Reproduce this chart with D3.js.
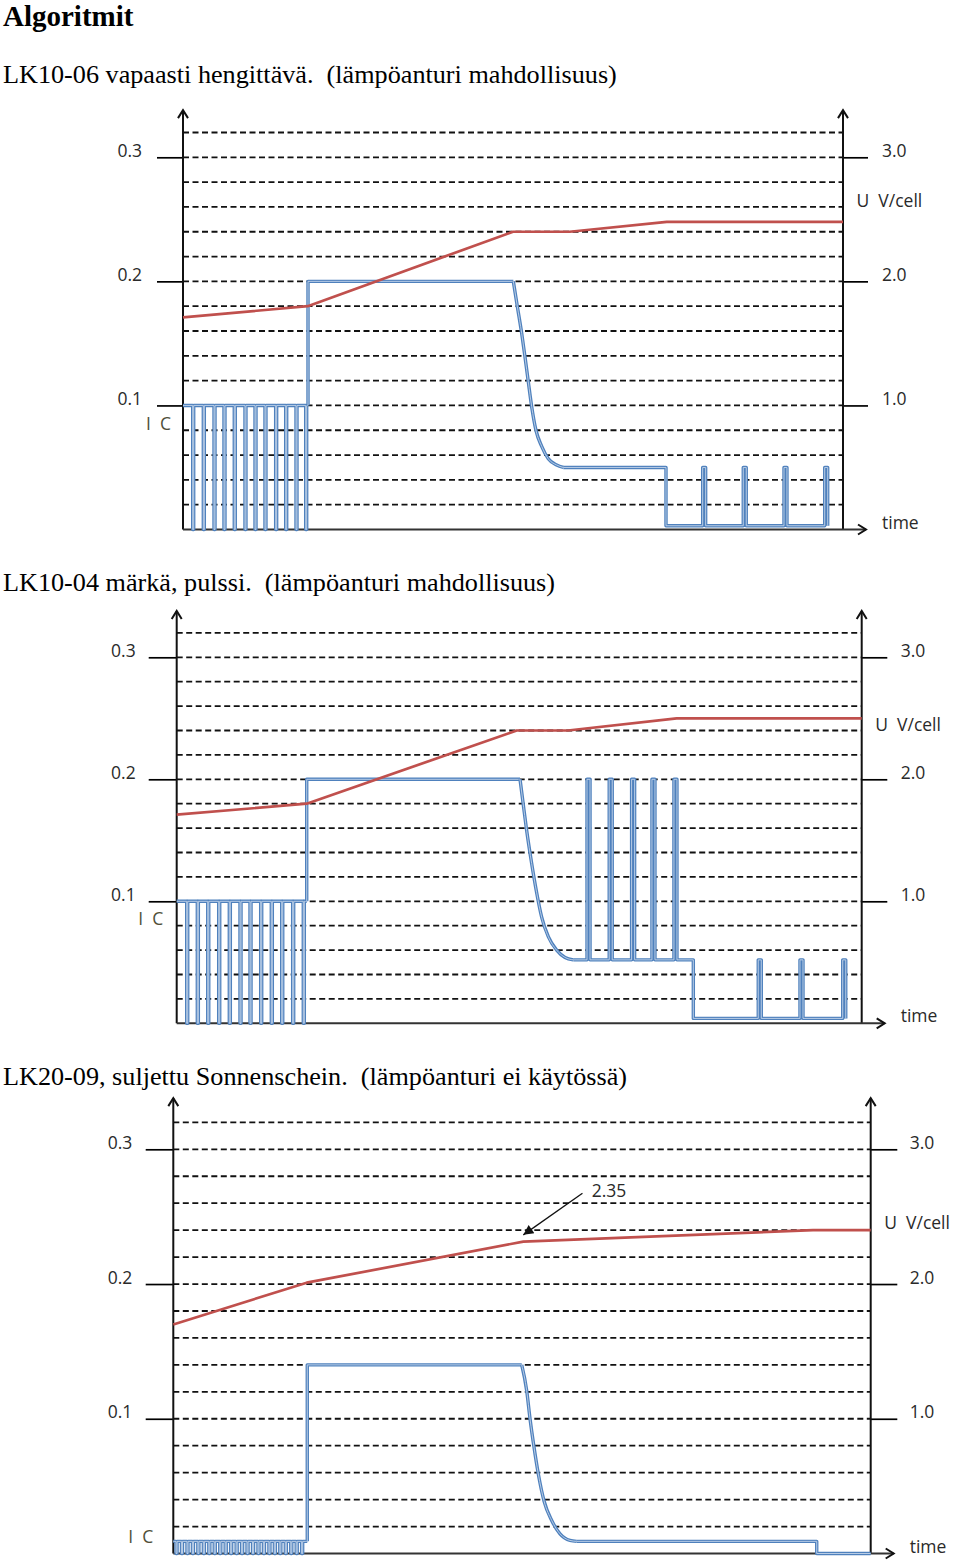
<!DOCTYPE html>
<html><head><meta charset="utf-8">
<script src="https://cdn.jsdelivr.net/npm/d3@7"></script>
<style>
body{margin:0;background:#fff;}
svg text{white-space:pre;}
</style></head><body>
<svg id="c" width="960" height="1563"></svg>
<script>
// ---------------- data ----------------
const pageTitle = "Algoritmit";
const chartTitles = [
  "LK10-06 vapaasti hengittävä.  (lämpöanturi mahdollisuus)",
  "LK10-04 märkä, pulssi.  (lämpöanturi mahdollisuus)",
  "LK20-09, suljettu Sonnenschein.  (lämpöanturi ei käytössä)"
];
const currentTicks = [0.1, 0.2, 0.3];
const currentTickLabels = ["0.1", "0.2", "0.3"];
const voltageTicks = [1.0, 2.0, 3.0];
const voltageTickLabels = ["1.0", "2.0", "3.0"];
const gridValues = [0.02,0.04,0.06,0.08,0.10,0.12,0.14,0.16,0.18,0.20,0.22,0.24,0.26,0.28,0.30,0.32];
const labelCurrent = "I  C";
const labelVoltage = "U  V/cell";
const labelTime = "time";

// chart 1 (time 0..100, current A-units, voltage V/cell)
const c1Voltage = [[0,1.71],[18.9,1.80],[50.0,2.40],[58.6,2.40],[73.3,2.48],[100,2.48]];
const c1PulseTimes = [1.47,3.08,4.70,6.21,7.77,9.39,10.91,12.42,14.04,15.56,17.12,18.59];
const c1PulseLevel = 0.1;
const c1Bulk = [[18.94,0.1],[18.94,0.2],[50.05,0.2]];
const c1Decay = [[50.05,0.2],[50.65,0.18],[51.32,0.158],[51.82,0.139],[52.32,0.119],[52.83,0.099],[53.48,0.080],[54.35,0.067],[55.35,0.057],[56.62,0.052],[57.62,0.050]];
const c1Hold = [[57.62,0.050],[73.18,0.050],[73.18,0.003]];
const c1SpikeTimes = [78.74,84.89,91.06,97.23];
const c1SpikeLevels = [0.003, 0.050];

// chart 2
const c2Voltage = [[0,1.71],[18.98,1.80],[49.64,2.40],[57.12,2.40],[72.99,2.50],[100,2.50]];
const c2PulseTimes = [1.46,3.01,4.53,6.13,7.68,9.24,10.70,12.26,13.81,15.33,16.93,18.48];
const c2PulseLevel = 0.1;
const c2Bulk = [[18.98,0.1],[18.98,0.2],[50.12,0.2]];
const c2Decay = [[50.12,0.2],[50.51,0.183],[51.09,0.158],[51.82,0.131],[52.55,0.107],[53.28,0.087],[54.25,0.071],[55.47,0.060],[56.69,0.054],[57.9,0.052]];
const c2HighSpikeTimes = [59.9,63.14,66.41,69.38,72.59];
const c2HighSpikeLevels = [0.052, 0.2];
const c2Drop = [[75.42,0.052],[75.42,0.004]];
const c2LowSpikeTimes = [84.9,90.99,97.23];
const c2LowSpikeLevels = [0.004, 0.052];

// chart 3
const c3Voltage = [[0,1.70],[19.13,2.01],[50.19,2.315],[91.73,2.40],[100,2.40]];
const c3PulseTimes = [0.39,1.17,1.96,2.74,3.52,4.31,5.09,5.87,6.66,7.44,8.22,9.01,9.79,10.57,11.36,12.14,12.92,13.71,14.49,15.27,16.06,16.84,17.62,18.40];
const c3PulseLevel = 0.009;
const c3Bulk = [[19.21,0.009],[19.21,0.14],[49.96,0.14]];
const c3Decay = [[49.96,0.14],[50.67,0.121],[51.15,0.100],[51.72,0.079],[52.34,0.059],[53.16,0.039],[54.26,0.0245],[55.45,0.0146],[56.88,0.0097],[57.84,0.009]];
const c3Tail = [[57.84,0.009],[92.26,0.009],[92.26,0.0],[100,0.0]];
const c3AnnotationLabel = "2.35";
const c3AnnotationText = [60.0, 2.647];
const c3AnnotationFrom = [58.67, 2.674];
const c3AnnotationTo = [50.19, 2.365];

// ---------------- helpers ----------------
function notchTrain(level, times, w, t0, t1) {
  const pts = [[t0, level]];
  times.forEach(p => { pts.push([p, level], [p, 0], [p + w, 0], [p + w, level]); });
  pts.push([t1, level]);
  return pts;
}
function spikeTrain(levels, times, w, t0, t1) {
  const [base, top] = levels;
  const pts = [[t0, base]];
  times.forEach(p => { pts.push([p, base], [p, top], [p + w, top], [p + w, base]); });
  if (t1 != null) pts.push([t1, base]);
  return pts;
}

const BLUE = "#4f81bd", BLUE_IN = "#c4d5ea", RED = "#c0504d";
const LABEL_FONT = "'Open Sans', sans-serif";
const LABEL_SIZE = 17.5;
const LABEL_COLOR = "#2a2a2a";
const svg = d3.select("#c");

const defs = svg.append("defs");
defs.append("marker").attr("id", "ah").attr("viewBox", "0 0 10 10")
  .attr("refX", 10).attr("refY", 5).attr("markerWidth", 12).attr("markerHeight", 10)
  .attr("markerUnits", "userSpaceOnUse").attr("orient", "auto")
  .append("path").attr("d", "M0,0 L10,5 L0,10 z").attr("fill", "#111");

svg.append("text").attr("x", 3).attr("y", 26)
  .attr("font-family", "'Liberation Serif', serif").attr("font-weight", "bold")
  .attr("font-size", 29).attr("fill", "#000").text(pageTitle);

function drawChart(L, D) {
  const x = d3.scaleLinear().domain([0, 100]).range([L.x0, L.x1]);
  const yI = d3.scaleLinear().domain([0, 0.3]).range([L.bottom, L.top03]);
  const yU = d3.scaleLinear().domain([0, 3]).range([L.bottom, L.top03]);
  const g = svg.append("g");

  g.append("text").attr("x", 3).attr("y", L.titleY)
    .attr("font-family", "'Liberation Serif', serif").attr("font-size", 26.2)
    .attr("fill", "#000").text(D.title);

  // dashed grid
  g.append("g").selectAll("line").data(gridValues).join("line")
    .attr("x1", L.x0).attr("x2", L.x1)
    .attr("y1", d => yI(d)).attr("y2", d => yI(d))
    .attr("stroke", "#111").attr("stroke-width", 1.8).attr("stroke-dasharray", "6,3.5");

  // left axis (current)
  const la = g.append("g").attr("transform", `translate(${L.x0},0)`)
    .call(d3.axisLeft(yI).tickValues(currentTicks)
      .tickFormat((d, i) => currentTickLabels[i]).tickSize(L.tickL).tickPadding(41 - L.tickL));
  la.select(".domain").remove();
  la.selectAll("line").attr("stroke", "#000").attr("stroke-width", 1.7);
  la.selectAll("text").attr("dy", -1).attr("font-size", LABEL_SIZE).attr("font-family", LABEL_FONT).attr("fill", LABEL_COLOR);

  // right axis (voltage)
  const ra = g.append("g").attr("transform", `translate(${L.x1},0)`)
    .call(d3.axisRight(yU).tickValues(voltageTicks)
      .tickFormat((d, i) => voltageTickLabels[i]).tickSize(L.tickR).tickPadding(39 - L.tickR));
  ra.select(".domain").remove();
  ra.selectAll("line").attr("stroke", "#000").attr("stroke-width", 1.7);
  ra.selectAll("text").attr("dy", -1).attr("font-size", LABEL_SIZE).attr("font-family", LABEL_FONT).attr("fill", LABEL_COLOR);

  // axis lines with open arrows
  const topY = yI(0.338);
  const ax = g.append("g").attr("fill", "none").attr("stroke", "#111").attr("stroke-width", 2);
  [L.x0, L.x1].forEach(xx => {
    ax.append("line").attr("x1", xx).attr("x2", xx).attr("y1", L.bottom).attr("y2", topY);
    ax.append("path").attr("d", `M${xx - 5},${topY + 8} L${xx},${topY} L${xx + 5},${topY + 8}`);
  });
  const endX = L.x1 + 23;
  ax.append("line").attr("x1", L.x0).attr("x2", endX).attr("y1", L.bottom).attr("y2", L.bottom).attr("stroke", "#333");
  ax.append("path").attr("d", `M${endX - 8},${L.bottom - 5} L${endX},${L.bottom} L${endX - 8},${L.bottom + 5}`);

  // axis labels
  const lab = g.append("g").attr("font-family", LABEL_FONT).attr("font-size", LABEL_SIZE).attr("fill", LABEL_COLOR);
  lab.append("text").attr("x", L.x0 - L.icOff).attr("y", yI(L.icAt)).attr("fill", "#4f4f3a").text(labelCurrent);
  lab.append("text").attr("x", L.x1 + 13.5).attr("y", yU(L.uAt)).text(labelVoltage);
  lab.append("text").attr("x", L.x1 + 39).attr("y", L.bottom - 1).text(labelTime);

  // current trace (blue, double-stroke look)
  const lin = d3.line().x(d => x(d[0])).y(d => yI(d[1]));
  const mono = d3.line().x(d => x(d[0])).y(d => yI(d[1])).curve(d3.curveMonotoneX);
  const cg = g.append("g").attr("fill", "none").attr("stroke-linejoin", "round");
  D.segments.forEach(s => {
    const dstr = (s.curve ? mono : lin)(s.pts);
    cg.append("path").attr("d", dstr).attr("stroke", BLUE).attr("stroke-width", 3.4);
    cg.append("path").attr("d", dstr).attr("stroke", BLUE_IN).attr("stroke-width", 0.9);
  });

  // voltage trace
  g.append("path").attr("d", d3.line().x(d => x(d[0])).y(d => yU(d[1]))(D.voltage))
    .attr("fill", "none").attr("stroke", RED).attr("stroke-width", 2.7).attr("stroke-linejoin", "round");

  if (D.annotation) {
    const a = D.annotation;
    g.append("line").attr("x1", x(a.from[0])).attr("y1", yU(a.from[1]))
      .attr("x2", x(a.to[0])).attr("y2", yU(a.to[1]))
      .attr("stroke", "#111").attr("stroke-width", 1.3).attr("marker-end", "url(#ah)");
    g.append("text").attr("x", x(a.text[0])).attr("y", yU(a.text[1]))
      .attr("font-family", LABEL_FONT).attr("font-size", LABEL_SIZE).attr("fill", LABEL_COLOR).text(a.label);
  }
}

drawChart(
  {x0: 183, x1: 843, bottom: 529.5, top03: 157.3, tickL: 26, tickR: 25, titleY: 83, icOff: 37, icAt: 0.08, uAt: 2.6},
  {title: chartTitles[0], voltage: c1Voltage, segments: [
    {pts: notchTrain(c1PulseLevel, c1PulseTimes, 0.15, 0, c1Bulk[0][0])},
    {pts: c1Bulk},
    {pts: c1Decay, curve: true},
    {pts: c1Hold.concat(spikeTrain(c1SpikeLevels, c1SpikeTimes, 0.45, c1Hold[2][0], null))}
  ]}
);
drawChart(
  {x0: 176.7, x1: 861.7, bottom: 1023.3, top03: 657.3, tickL: 28, tickR: 25.6, titleY: 591, icOff: 38.4, icAt: 0.0806, uAt: 2.4},
  {title: chartTitles[1], voltage: c2Voltage, segments: [
    {pts: notchTrain(c2PulseLevel, c2PulseTimes, 0.15, 0, c2Bulk[0][0])},
    {pts: c2Bulk},
    {pts: c2Decay, curve: true},
    {pts: spikeTrain(c2HighSpikeLevels, c2HighSpikeTimes, 0.44, c2Decay[c2Decay.length - 1][0], c2Drop[0][0])
      .concat(c2Drop)
      .concat(spikeTrain(c2LowSpikeLevels, c2LowSpikeTimes, 0.44, c2Drop[1][0], null))}
  ]}
);
drawChart(
  {x0: 173.3, x1: 870.7, bottom: 1553.5, top03: 1149.3, tickL: 27.6, tickR: 26.6, titleY: 1085, icOff: 45, icAt: 0.008, uAt: 2.41},
  {title: chartTitles[2], voltage: c3Voltage, segments: [
    {pts: notchTrain(c3PulseLevel, c3PulseTimes, 0.15, 0, c3Bulk[0][0])},
    {pts: c3Bulk},
    {pts: c3Decay, curve: true},
    {pts: c3Tail}
  ], annotation: {label: c3AnnotationLabel, text: c3AnnotationText, from: c3AnnotationFrom, to: c3AnnotationTo}}
);
</script>
</body></html>
